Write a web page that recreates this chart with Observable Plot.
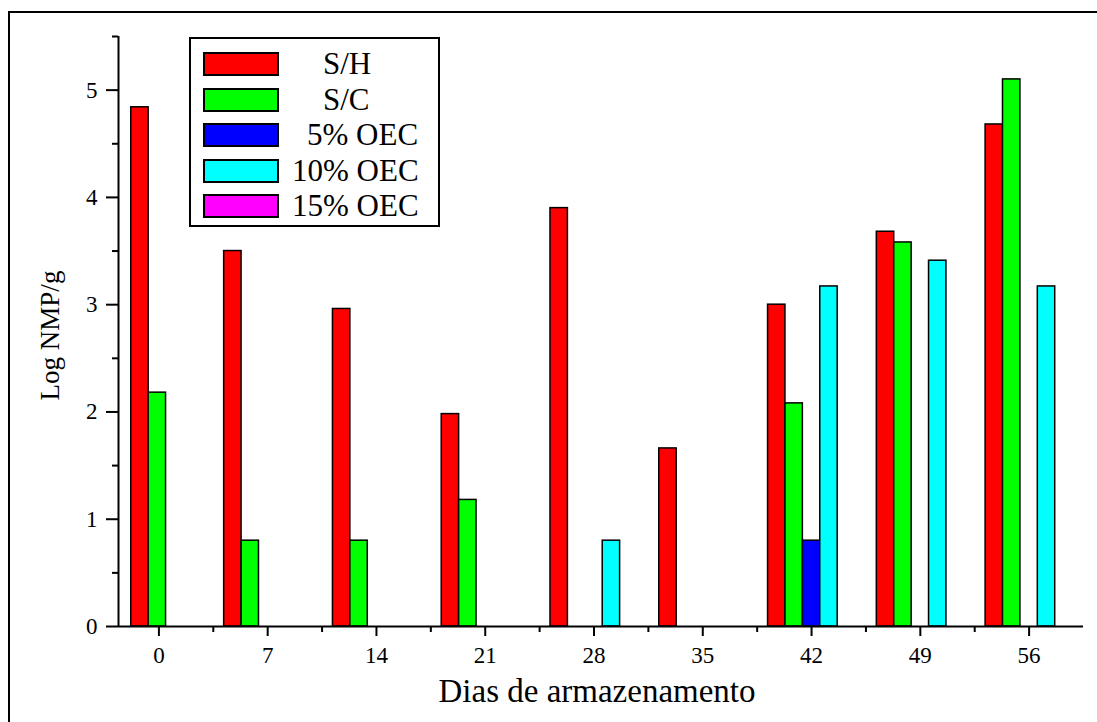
<!DOCTYPE html>
<html>
<head>
<meta charset="utf-8">
<script src="https://cdn.jsdelivr.net/npm/d3@7"></script>
<script src="https://cdn.jsdelivr.net/npm/@observablehq/plot@0.6"></script>
<style>
  html, body { margin: 0; padding: 0; background: #fff; }
  body { width: 1097px; height: 722px; overflow: hidden; position: relative; font-family: "Liberation Serif", "Times New Roman", serif; }
  #frame { position: absolute; left: 8px; top: 11px; width: 2000px; height: 2000px; border-left: 2px solid #000; border-top: 2px solid #000; box-sizing: border-box; }
  #chart { position: absolute; left: 0; top: 0; }
  #chart svg, #chart svg text { font-family: "Liberation Serif", "Times New Roman", serif !important; }
  #legend { position: absolute; left: 189px; top: 37px; width: 251px; height: 190px; border: 2px solid #000; box-sizing: border-box; background: #fff; }
  .sw { position: absolute; width: 76px; height: 24px; border: 2px solid #000; box-sizing: border-box; }
  .lb { position: absolute; font-size: 31px; line-height: 24px; white-space: pre; color: #000; }
</style>
</head>
<body>
<div id="frame"></div>
<div id="chart"></div>
<div id="legend"></div>
<script>
// ---- data ----
const days = [0, 7, 14, 21, 28, 35, 42, 49, 56];
const seriesNames = ["S/H", "S/C", "5% OEC", "10% OEC", "15% OEC"];
const seriesColors = ["#ff0000", "#00ff00", "#0000ff", "#00ffff", "#ff00ff"];
const SH    = [4.84, 3.50, 2.96, 1.98, 3.90, 1.66, 3.00, 3.68, 4.68];
const SC    = [2.18, 0.80, 0.80, 1.18, null, null, 2.08, 3.58, 5.10];
const OEC5  = [null, null, null, null, null, null, 0.80, null, null];
const OEC10 = [null, null, null, null, 0.80, null, 3.17, 3.41, 3.17];
const OEC15 = [null, null, null, null, null, null, null, null, null];
const yTicks = [0, 1, 2, 3, 4, 5];
const yMinorTicks = [0.5, 1.5, 2.5, 3.5, 4.5, 5.5];
const xMinorTicks = [3.5, 10.5, 17.5, 24.5, 31.5, 38.5, 45.5, 52.5];

// ---- build table ----
const seriesValues = [SH, SC, OEC5, OEC10, OEC15];
const rows = [];
seriesValues.forEach((vals, si) => {
  vals.forEach((v, di) => {
    if (v != null) rows.push({day: days[di], series: seriesNames[si], si, value: v});
  });
});
const xMin = -2.6, xMax = 59.5;
const groupWidth = 7 * 0.8;
const barW = groupWidth / seriesNames.length;
// group start; the first group is nudged right so it clears the y axis (as in the original)
const groupStart = d => Math.max(d.day - groupWidth / 2, xMin + 0.82);
const x1 = d => groupStart(d) + d.si * barW;
const x2 = d => x1(d) + barW;

const chart = Plot.plot({
  width: 1097,
  height: 722,
  marginLeft: 118,
  marginRight: 14,
  marginTop: 36,
  marginBottom: 96,
  style: {fontFamily: "'Liberation Serif', serif", color: "#000", background: "transparent"},
  x: {domain: [xMin, xMax], axis: null},
  y: {domain: [0, 5.5], axis: null},
  color: {domain: seriesNames, range: seriesColors},
  marks: [
    Plot.rectY(rows, {x1, x2, y1: 0, y2: "value", fill: "series", stroke: "#000", strokeWidth: 1.5}),
    Plot.ruleY([0], {stroke: "#000", strokeWidth: 2}),
    Plot.ruleX([xMin], {stroke: "#000", strokeWidth: 2}),
    Plot.axisX({ticks: days, tickSize: 10, tickPadding: 10, fontSize: 23, strokeWidth: 2, tickFormat: d3.format("d"), label: null}),
    Plot.axisX({ticks: xMinorTicks, tickSize: 6, tickFormat: () => "", strokeWidth: 2, label: null}),
    Plot.axisY({ticks: yTicks, tickSize: 12, tickPadding: 9, fontSize: 23, strokeWidth: 2, tickFormat: d3.format("d"), label: null}),
    Plot.axisY({ticks: yMinorTicks, tickSize: 6, tickFormat: () => "", strokeWidth: 2, label: null}),
    Plot.text(["Log NMP/g"], {frameAnchor: "left", textAnchor: "middle", dx: -68, dy: 4, rotate: -90, fontSize: 27}),
    Plot.text(["Dias de armazenamento"], {frameAnchor: "bottom", dx: -4, dy: 75, fontSize: 33})
  ]
});
document.getElementById("chart").appendChild(chart);

// ---- legend ----
const legend = document.getElementById("legend");
const rowTop = [13, 49, 84, 120, 155];
const indent = [31, 31, 15, 0, 0];
seriesNames.forEach((name, i) => {
  const sw = document.createElement("div");
  sw.className = "sw";
  sw.style.left = "12px";
  sw.style.top = rowTop[i] + "px";
  sw.style.background = seriesColors[i];
  legend.appendChild(sw);
  const lb = document.createElement("div");
  lb.className = "lb";
  lb.style.left = (101 + indent[i]) + "px";
  lb.style.top = rowTop[i] + "px";
  lb.textContent = name;
  legend.appendChild(lb);
});
</script>
</body>
</html>
